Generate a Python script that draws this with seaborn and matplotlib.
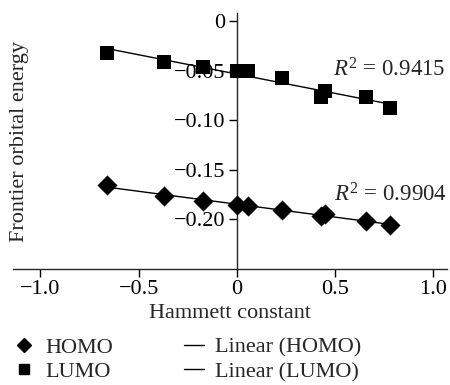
import numpy as np
import pandas as pd
import seaborn as sns
import matplotlib.pyplot as plt
from matplotlib.lines import Line2D

# Data
hammett = [-0.66, -0.37, -0.17, 0.0, 0.06, 0.23, 0.43, 0.45, 0.66, 0.78]
homo = [-0.1657, -0.1768, -0.1811, -0.1851, -0.1868, -0.1901, -0.1962, -0.1942, -0.2019, -0.2056]
lumo = [-0.0319, -0.0410, -0.0460, -0.0500, -0.0503, -0.0580, -0.0768, -0.0711, -0.0768, -0.0879]
r2_labels = ["0.9415", "0.9904"]
xticks = [-1.0, -0.5, 0.0, 0.5, 1.0]
xtick_labels = ["\u22121.0", "\u22120.5", "0", "0.5", "1.0"]
yticks = [0.0, -0.05, -0.10, -0.15, -0.20]
ytick_labels = ["0", "\u22120.05", "\u22120.10", "\u22120.15", "\u22120.20"]

df = pd.DataFrame({"hammett": hammett, "HOMO": homo, "LUMO": lumo})

sns.set_style("ticks")
plt.rcParams['font.family'] = ['Liberation Serif', 'DejaVu Serif']
plt.rcParams['mathtext.fontset'] = 'custom'
plt.rcParams['mathtext.rm'] = 'Liberation Serif'
plt.rcParams['mathtext.it'] = 'Liberation Serif:italic'
fs = 16

fig = plt.figure(figsize=(4.5, 3.85), dpi=100)
ax = fig.add_axes([13 / 450, 1 - 269 / 385, 434 / 450, (269 - 13) / 385])

# fitted trend lines
sns.regplot(data=df, x="hammett", y="HOMO", scatter=False, ci=None, color="black",
            line_kws={"lw": 1.0}, ax=ax)
sns.regplot(data=df, x="hammett", y="LUMO", scatter=False, ci=None, color="black",
            line_kws={"lw": 1.0}, ax=ax)

# points
sns.scatterplot(data=df, x="hammett", y="HOMO", marker="D", s=105, color="black",
                linewidth=0, ax=ax, zorder=3)
sns.scatterplot(data=df, x="hammett", y="LUMO", marker="s", s=100, color="black",
                linewidth=0, ax=ax, zorder=3)

ax.set_xlim(-1.14, 1.072)
ax.set_ylim(-0.25, 0.008)
ax.spines['left'].set_position(('data', 0))
ax.spines['top'].set_visible(False)
ax.spines['right'].set_visible(False)
ax.spines['left'].set_linewidth(1.0)
ax.spines['bottom'].set_linewidth(1.0)
ax.set_xticks(xticks)
ax.set_xticklabels(xtick_labels, fontsize=fs)
ax.set_yticks(yticks)
ax.set_yticklabels(ytick_labels, fontsize=fs)
ax.tick_params(axis='both', direction='out', length=6, width=1.0, colors='black', pad=2)
ax.set_xlabel("")
ax.set_ylabel("")

ax.text(1.063, -0.0493, r"$R^2$ = " + r2_labels[0], ha="right", va="center", fontsize=fs + 0.5)
ax.text(1.07, -0.175, r"$R^2$ = " + r2_labels[1], ha="right", va="center", fontsize=fs + 0.5)

fig.text(230 / 450, 1 - 313 / 385, "Hammett constant", ha="center", va="center", fontsize=fs)
fig.text(20 / 450, 1 - 141 / 385, "Frontier orbital energy", ha="center", va="center",
         rotation=90, fontsize=fs)

handles = [
    Line2D([], [], marker="D", ls="none", color="black", markersize=7),
    Line2D([], [], marker="s", ls="none", color="black", markersize=7),
    Line2D([], [], color="black", lw=1.0),
    Line2D([], [], color="black", lw=1.0),
]
labels = ["HOMO", "LUMO", "Linear (HOMO)", "Linear (LUMO)"]
fig.legend(handles, labels, ncol=2, loc="upper left", bbox_to_anchor=(14 / 450, 1 - 337 / 385),
           frameon=False, fontsize=fs, handlelength=0.9, handletextpad=0.5,
           columnspacing=3.2, labelspacing=0.18, borderpad=0, borderaxespad=0)

fig.savefig("out.png", dpi=100)
